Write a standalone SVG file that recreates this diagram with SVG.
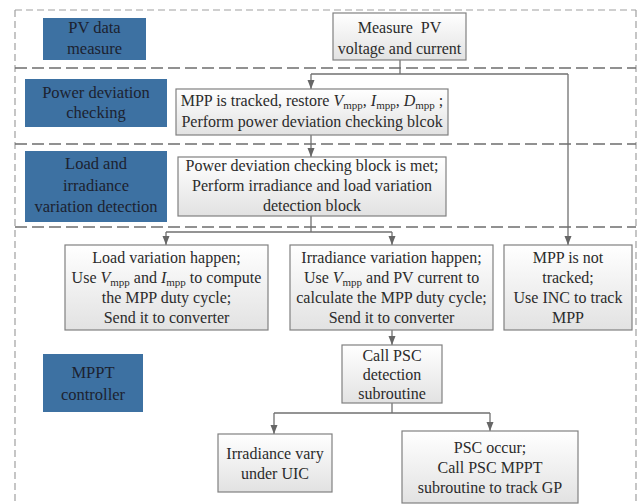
<svg xmlns="http://www.w3.org/2000/svg" width="641" height="504" viewBox="0 0 641 504">
  <style>
    .frame-outer { fill: none; stroke: #a0a0a0; stroke-width: 1.2; stroke-dasharray: 7 4; }
    .frame-inner { fill: none; stroke: #6e6e6e; stroke-width: 1.5; stroke-dasharray: 12 5; }
    .stage { fill: #3d71a2; }
    .stage-t { font-size: 16.5px; fill: #1c2230; text-anchor: middle; }
    .box { fill: url(#boxFill); stroke: #808080; stroke-width: 1.2; }
    .t { font-size: 16px; fill: #2b2b2b; text-anchor: middle; }
    .it { font-style: italic; }
    .sub { font-size: 11px; }
    .link { fill: none; stroke: #707070; stroke-width: 1.3; }
  </style>
  <defs>
    <linearGradient id="boxFill" x1="0" y1="0" x2="0" y2="1">
      <stop offset="0" stop-color="#ffffff"/>
      <stop offset="1" stop-color="#e2e2e2"/>
    </linearGradient>
    <marker id="arrow" markerWidth="8" markerHeight="10" refX="4" refY="9" orient="0" markerUnits="userSpaceOnUse">
      <path d="M0.5,0 L7.5,0 L4,9 Z" fill="#666666"/>
    </marker>
  </defs>

  <rect width="641" height="504" fill="#ffffff"/>

  <!-- dashed stage frames -->
  <g id="frames">
    <path class="frame-outer" d="M15,10 H636"/>
    <path class="frame-outer" d="M15,10 V504"/>
    <path class="frame-outer" d="M636,10 V504"/>
    <path class="frame-inner" d="M15,68 H636"/>
    <path class="frame-inner" d="M15,144 H636"/>
    <path class="frame-inner" d="M15,227 H636"/>
  </g>

  <g font-family="Liberation Serif, Tinos, Times New Roman, DejaVu Serif, serif">
  <!-- stage labels -->
  <g id="stage-pv">
    <rect class="stage" x="43" y="18" width="103" height="42"/>
    <text class="stage-t" x="94.5" y="33">PV data</text>
    <text class="stage-t" x="94.5" y="54">measure</text>
  </g>
  <g id="stage-power">
    <rect class="stage" x="25" y="79" width="142" height="48"/>
    <text class="stage-t" x="96" y="98">Power deviation</text>
    <text class="stage-t" x="96" y="118">checking</text>
  </g>
  <g id="stage-load">
    <rect class="stage" x="25" y="151" width="142" height="71"/>
    <text class="stage-t" x="96" y="169">Load and</text>
    <text class="stage-t" x="96" y="191">irradiance</text>
    <text class="stage-t" x="96" y="212">variation detection</text>
  </g>
  <g id="stage-mppt">
    <rect class="stage" x="43" y="354" width="100" height="58"/>
    <text class="stage-t" x="93" y="378">MPPT</text>
    <text class="stage-t" x="93" y="400">controller</text>
  </g>

  <!-- connectors -->
  <g id="connectors">
    <path class="link" d="M400,60 V74"/>
    <path class="link" d="M311,74 H568"/>
    <path class="link" d="M311,74 V89" marker-end="url(#arrow)"/>
    <path class="link" d="M568,74 V245" marker-end="url(#arrow)"/>
    <path class="link" d="M311,135 V157" marker-end="url(#arrow)"/>
    <path class="link" d="M311,216 V232"/>
    <path class="link" d="M166,232 H392"/>
    <path class="link" d="M166,232 V245" marker-end="url(#arrow)"/>
    <path class="link" d="M392,232 V245" marker-end="url(#arrow)"/>
    <path class="link" d="M392,330 V345" marker-end="url(#arrow)"/>
    <path class="link" d="M392,403 V413"/>
    <path class="link" d="M274,413 H490"/>
    <path class="link" d="M274,413 V434" marker-end="url(#arrow)"/>
    <path class="link" d="M490,413 V431" marker-end="url(#arrow)"/>
  </g>

  <!-- process nodes -->
  <g id="measure">
    <rect class="box" x="333" y="13" width="133" height="47"/>
    <text class="t" x="399.5" y="33" style="white-space:pre">Measure  PV</text>
    <text class="t" x="399.5" y="54">voltage and current</text>
  </g>
  <g id="mpp-tracked">
    <rect class="box" x="176" y="89" width="272" height="46"/>
    <text class="t" x="312" y="106">MPP is tracked, restore <tspan class="it">V</tspan><tspan class="sub" dy="3">mpp</tspan><tspan dy="-3">, </tspan><tspan class="it">I</tspan><tspan class="sub" dy="3">mpp</tspan><tspan dy="-3">, </tspan><tspan class="it">D</tspan><tspan class="sub" dy="3">mpp</tspan><tspan dy="-3"> ;</tspan></text>
    <text class="t" x="312" y="127">Perform power deviation checking blcok</text>
  </g>
  <g id="deviation-met">
    <rect class="box" x="178" y="157" width="268" height="59"/>
    <text class="t" x="312" y="171">Power deviation checking block is met;</text>
    <text class="t" x="312" y="191">Perform irradiance and load variation</text>
    <text class="t" x="312" y="211">detection block</text>
  </g>
  <g id="load-variation">
    <rect class="box" x="65" y="245" width="203" height="85"/>
    <text class="t" x="166.5" y="263">Load variation happen;</text>
    <text class="t" x="166.5" y="283">Use <tspan class="it">V</tspan><tspan class="sub" dy="3">mpp</tspan><tspan dy="-3"> and </tspan><tspan class="it">I</tspan><tspan class="sub" dy="3">mpp</tspan><tspan dy="-3"> to compute</tspan></text>
    <text class="t" x="166.5" y="303">the MPP duty cycle;</text>
    <text class="t" x="166.5" y="323">Send it to converter</text>
  </g>
  <g id="irradiance-variation">
    <rect class="box" x="290" y="245" width="203" height="85"/>
    <text class="t" x="391.5" y="263">Irradiance variation happen;</text>
    <text class="t" x="391.5" y="283">Use <tspan class="it">V</tspan><tspan class="sub" dy="3">mpp</tspan><tspan dy="-3"> and PV current to</tspan></text>
    <text class="t" x="391.5" y="303">calculate the MPP duty cycle;</text>
    <text class="t" x="391.5" y="323">Send it to converter</text>
  </g>
  <g id="mpp-not-tracked">
    <rect class="box" x="504" y="245" width="128" height="85"/>
    <text class="t" x="568" y="263">MPP is not</text>
    <text class="t" x="568" y="283">tracked;</text>
    <text class="t" x="568" y="303">Use INC to track</text>
    <text class="t" x="568" y="323">MPP</text>
  </g>
  <g id="psc-detection">
    <rect class="box" x="342" y="345" width="100" height="58"/>
    <text class="t" x="392" y="361">Call PSC</text>
    <text class="t" x="392" y="380">detection</text>
    <text class="t" x="392" y="399">subroutine</text>
  </g>
  <g id="uic">
    <rect class="box" x="218" y="434" width="114" height="58"/>
    <text class="t" x="275" y="459">Irradiance vary</text>
    <text class="t" x="275" y="479">under UIC</text>
  </g>
  <g id="psc-occur">
    <rect class="box" x="402" y="431" width="176" height="72"/>
    <text class="t" x="490" y="453">PSC occur;</text>
    <text class="t" x="490" y="473">Call PSC MPPT</text>
    <text class="t" x="490" y="493">subroutine to track GP</text>
  </g>
  </g>
</svg>
